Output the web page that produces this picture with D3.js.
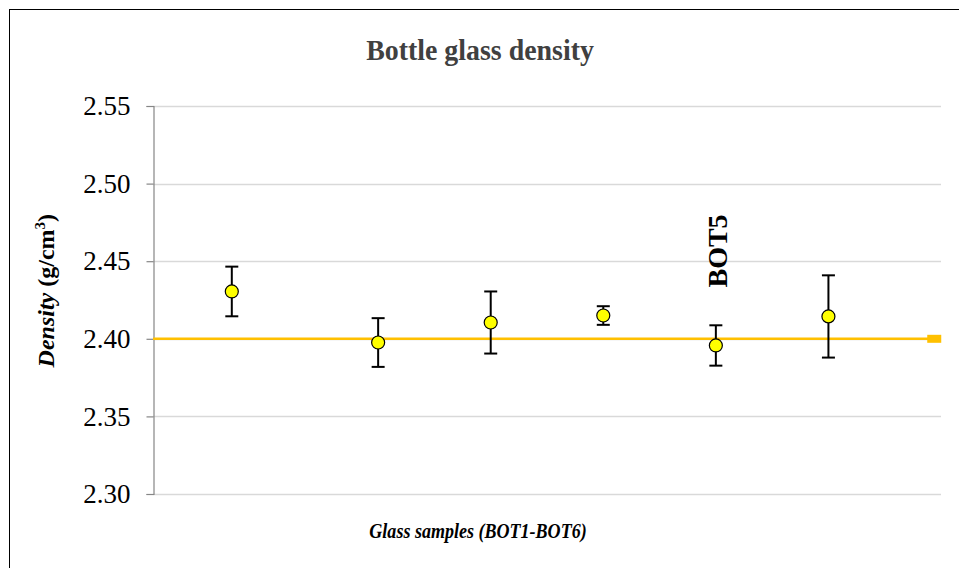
<!DOCTYPE html>
<html>
<head>
<meta charset="utf-8">
<script src="https://cdn.jsdelivr.net/npm/d3@7"></script>
<style>
  body { margin: 0; background: #fff; }
  svg { display: block; }
  text { font-family: "Liberation Serif", "Times New Roman", serif; }
</style>
</head>
<body>
<svg id="chart" width="959" height="568"></svg>
<script>
const samples = ["BOT1", "BOT2", "BOT3", "BOT4", "BOT5", "BOT6"];
const sampleX = [0.7, 2, 3, 4, 5, 6];
const density = [2.4305, 2.3976, 2.4105, 2.415, 2.3957, 2.4144];
const errors = [0.016, 0.0157, 0.020, 0.006, 0.013, 0.0265];
const yTicks = [2.30, 2.35, 2.40, 2.45, 2.50, 2.55];
const reference = 2.40;

const width = 959, height = 568;
const margin = { top: 106, right: 18, bottom: 74, left: 153 };

const svg = d3.select("#chart");

// outer frame
svg.append("rect")
  .attr("x", 9.5).attr("y", 9.5)
  .attr("width", width).attr("height", height)
  .attr("fill", "none").attr("stroke", "#000").attr("stroke-width", 1);

const x = d3.scaleLinear()
  .domain([0, 7])
  .range([margin.left, width - margin.right]);

const y = d3.scaleLinear()
  .domain([2.30, 2.55])
  .range([height - margin.bottom, margin.top]);

// grid
svg.append("g")
  .selectAll("line")
  .data(yTicks)
  .join("line")
  .attr("x1", margin.left)
  .attr("x2", width - margin.right)
  .attr("y1", (d) => Math.round(y(d)) + 0.5)
  .attr("y2", (d) => Math.round(y(d)) + 0.5)
  .attr("stroke", "#d9d9d9")
  .attr("stroke-width", 1.5);

// y axis
const yAxis = svg.append("g")
  .attr("transform", `translate(${margin.left + 0.5},0)`)
  .call(d3.axisLeft(y).tickValues(yTicks).tickFormat(d3.format(".2f")).tickSize(7).tickPadding(16).tickSizeOuter(7))
  .attr("font-family", "Liberation Serif")
  .attr("font-size", 27);
yAxis.selectAll("path, line").attr("stroke", "#868686").attr("stroke-width", 1.2);
yAxis.selectAll("text")
  .attr("font-family", "Liberation Serif")
  .attr("fill", "#000");

// reference line
svg.append("line")
  .attr("x1", x(0))
  .attr("x2", x(7))
  .attr("y1", y(reference))
  .attr("y2", y(reference))
  .attr("stroke", "#FFC000")
  .attr("stroke-width", 2.5);

svg.append("rect")
  .attr("x", x(6.94) - 7)
  .attr("y", y(reference) - 4)
  .attr("width", 14)
  .attr("height", 8)
  .attr("fill", "#FFC000");

// error bars
const bars = svg.append("g")
  .attr("stroke", "#000")
  .attr("stroke-width", 2)
  .selectAll("g")
  .data(density.map((v, i) => ({ x: sampleX[i], v, e: errors[i], name: samples[i] })))
  .join("g");

bars.append("line")
  .attr("x1", (d) => x(d.x)).attr("x2", (d) => x(d.x))
  .attr("y1", (d) => y(d.v + d.e)).attr("y2", (d) => y(d.v - d.e));
bars.append("line")
  .attr("x1", (d) => x(d.x) - 6.5).attr("x2", (d) => x(d.x) + 6.5)
  .attr("y1", (d) => y(d.v + d.e)).attr("y2", (d) => y(d.v + d.e));
bars.append("line")
  .attr("x1", (d) => x(d.x) - 6.5).attr("x2", (d) => x(d.x) + 6.5)
  .attr("y1", (d) => y(d.v - d.e)).attr("y2", (d) => y(d.v - d.e));

// points
svg.append("g")
  .selectAll("circle")
  .data(density)
  .join("circle")
  .attr("cx", (d, i) => x(sampleX[i]))
  .attr("cy", (d) => y(d))
  .attr("r", 6.5)
  .attr("fill", "#FFFF00")
  .attr("stroke", "#000")
  .attr("stroke-width", 1.2);

// BOT5 label
svg.append("text")
  .attr("transform", `translate(${x(sampleX[4]) + 11},${y(2.4566)}) rotate(-90)`)
  .attr("text-anchor", "middle")
  .style("font-weight", "bold")
  .style("font-size", "28px")
  .text(samples[4]);

// title
svg.append("text")
  .attr("transform", "translate(480,60) scale(0.93,1)")
  .attr("text-anchor", "middle")
  .style("font-weight", "bold")
  .style("font-size", "30px")
  .attr("fill", "#404040")
  .text("Bottle glass density");

// y label
const yl = svg.append("text")
  .attr("transform", `translate(54,${y(2.431)}) rotate(-90)`)
  .attr("text-anchor", "middle")
  .style("font-weight", "bold")
  .style("font-size", "24px");
yl.append("tspan").style("font-style", "italic").text("Density");
yl.append("tspan").text(" (g/cm");
yl.append("tspan").style("font-size", "15px").attr("dy", -9).text("3");
yl.append("tspan").attr("dy", 9).text(")");

// x label
svg.append("text")
  .attr("transform", "translate(478,538) scale(0.88,1)")
  .attr("text-anchor", "middle")
  .style("font-weight", "bold")
  .style("font-style", "italic")
  .style("font-size", "20.5px")
  .text("Glass samples (BOT1-BOT6)");
</script>
</body>
</html>
